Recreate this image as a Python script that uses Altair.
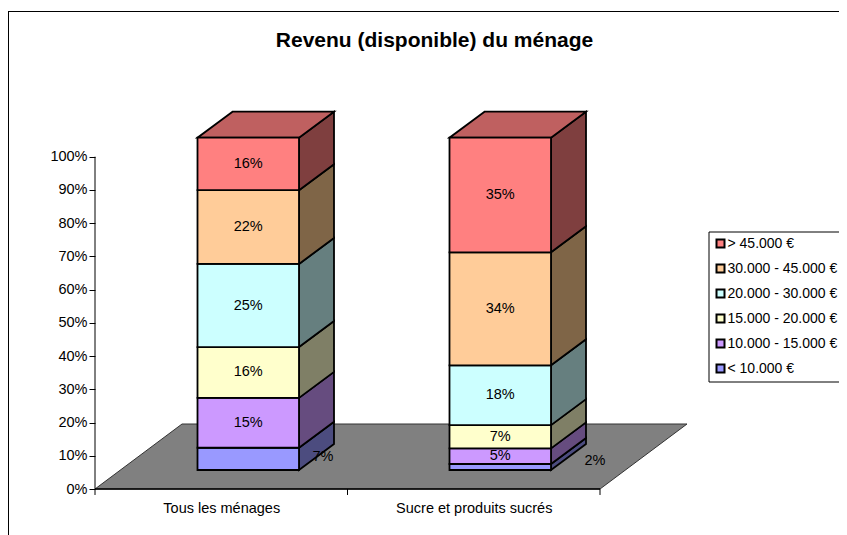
import altair as alt
import pandas as pd

categories = ["Tous les ménages", "Sucre et produits sucrés"]
brackets = ["< 10.000 €", "10.000 - 15.000 €", "15.000 - 20.000 €",
            "20.000 - 30.000 €", "30.000 - 45.000 €", "> 45.000 €"]
tous_heights = [6.7, 15.0, 15.3, 25.0, 22.2, 15.8]
sucre_heights = [1.8, 4.7, 7.0, 18.0, 34.0, 34.5]
tous_labels = ["7%", "15%", "16%", "25%", "22%", "16%"]
sucre_labels = ["2%", "5%", "7%", "18%", "34%", "35%"]
front_colors = ["#9999FF", "#CC99FF", "#FFFFCC", "#CCFFFF", "#FFCC99", "#FF8080"]
side_colors = ["#4C4C7F", "#664C7F", "#7F7F66", "#667F7F", "#7F6547", "#7F3F3F"]
top_color = "#BF6060"
floor_color = "#808080"
y_ticks = list(range(0, 101, 10))

FONT = "Liberation Sans"
W, H = 831, 527
PX_PER_PCT = 3.323
Y0 = 481.0  # view y of the 0% line
X_MIN, X_MAX = 8, 8 + W
y_domain = [-(H - Y0) / PX_PER_PCT, Y0 / PX_PER_PCT]
xs = alt.Scale(domain=[X_MIN, X_MAX], nice=False, zero=False)
ys = alt.Scale(domain=y_domain, nice=False, zero=False)

AXIS_X = 95
CAT_W = 252.5
FLOOR_DX, FLOOR_D = 87, 65 / PX_PER_PCT
BAR_W = 101.5
BAR_DX, BAR_D = 35, 26 / PX_PER_PCT
BAR_BASE = 19 / PX_PER_PCT
BAR_OFF = 102.5
centers = [AXIS_X + CAT_W * (i + 0.5) for i in range(2)]

front, side, top, text = [], [], [], []
for i, (hs, ls) in enumerate([(tous_heights, tous_labels), (sucre_heights, sucre_labels)]):
    L = AXIS_X + CAT_W * i + BAR_OFF - (0 if i == 0 else 0.5)
    R = L + BAR_W
    cum = BAR_BASE
    for j, (h, lab) in enumerate(zip(hs, ls)):
        lo, hi = cum, cum + h
        cum = hi
        front.append(dict(x=L, x2=R, lo=lo, hi=hi, bracket=brackets[j]))
        key = f"{i}-{j}"
        side.append(dict(x=R, lo=lo, hi=hi, fill=side_colors[j], key=key))
        side.append(dict(x=R + BAR_DX, lo=lo + BAR_D, hi=hi + BAR_D, fill=side_colors[j], key=key))
        tx, ty = (L + R) / 2, (lo + hi) / 2
        if j == 0:  # the two thinnest labels sit off to the right of the column
            tx = R + (24 if i == 0 else 44)
            ty = (489 - (457 if i == 0 else 461)) / PX_PER_PCT
        text.append(dict(x=tx, y=ty, label=lab))
    top.append(dict(x=L, x2=R, y=cum, key=i))
    top.append(dict(x=L + BAR_DX, x2=R + BAR_DX, y=cum + BAR_D, key=i))

floor = [dict(x=AXIS_X, x2=AXIS_X + 2 * CAT_W, y=0),
         dict(x=AXIS_X + FLOOR_DX, x2=AXIS_X + 2 * CAT_W + FLOOR_DX, y=FLOOR_D)]

label_expr = "datum.value < %s ? '%s' : '%s'" % (AXIS_X + CAT_W, categories[0], categories[1])

xax = alt.Axis(values=centers, labelExpr=label_expr, orient="bottom",
               offset=-(H - Y0), tickSize=0, domain=False, grid=False,
               labelFont=FONT, labelFontSize=14.5, labelColor="black",
               labelPadding=12, labelOverlap=False, labelBound=False,
               labelFlush=False, title=None)
yax = alt.Axis(values=y_ticks, labelExpr="datum.value + '%'", orient="left",
               offset=-(AXIS_X - X_MIN), tickSize=6, tickColor="black", tickWidth=1,
               domain=False, grid=False, labelFont=FONT, labelFontSize=14.5,
               labelColor="black", labelPadding=2, labelOverlap=False,
               labelBound=False, title=None)


def X(f):
    return alt.X(f, scale=xs, axis=xax)


def Y(f):
    return alt.Y(f, scale=ys, axis=yax)


border_top = alt.Chart(pd.DataFrame({"a": [0]})).mark_rule(color="black", strokeWidth=1).encode(
    x=alt.value(0), x2=alt.value(W), y=alt.value(3.5))
border_left = alt.Chart(pd.DataFrame({"a": [0]})).mark_rule(color="black", strokeWidth=1).encode(
    x=alt.value(0.5), y=alt.value(3), y2=alt.value(H))

floor_layer = alt.Chart(pd.DataFrame(floor)).mark_area(
    orient="horizontal", color=floor_color, stroke="#333333", strokeWidth=1
).encode(x=X("x:Q"), x2="x2:Q", y=Y("y:Q"))

axis_df = pd.DataFrame({"x": [AXIS_X], "x2": [AXIS_X + 2 * CAT_W], "hi": [100.0], "z": [0.0]})
y_line = alt.Chart(axis_df).mark_rule(color="black", strokeWidth=1).encode(
    x=X("x:Q"), y=Y("z:Q"), y2="hi:Q")
x_line = alt.Chart(axis_df).mark_rule(color="black", strokeWidth=1.5).encode(
    x=X("x:Q"), x2="x2:Q", y=Y("z:Q"))
tick_df = pd.DataFrame({"x": [AXIS_X + CAT_W * k for k in range(3)], "lo": [-1.8] * 3, "z": [0.0] * 3})
x_ticks = alt.Chart(tick_df).mark_rule(color="black", strokeWidth=1).encode(
    x=X("x:Q"), y=Y("lo:Q"), y2="z:Q")

side_layer = alt.Chart(pd.DataFrame(side)).mark_area(
    orient="vertical", stroke="black", strokeWidth=1.8, strokeJoin="miter"
).encode(
    x=X("x:Q"), y=Y("lo:Q"), y2="hi:Q",
    color=alt.Color("fill:N", scale=None, legend=None),
    detail="key:N",
)
top_layer = alt.Chart(pd.DataFrame(top)).mark_area(
    orient="horizontal", color=top_color, stroke="black", strokeWidth=1.8
).encode(x=X("x:Q"), x2="x2:Q", y=Y("y:Q"), detail="key:N")
front_layer = alt.Chart(pd.DataFrame(front)).mark_rect(stroke="black", strokeWidth=1.8).encode(
    x=X("x:Q"), x2="x2:Q", y=Y("lo:Q"), y2="hi:Q",
    fill=alt.Fill("bracket:N",
                  scale=alt.Scale(domain=brackets[::-1], range=front_colors[::-1]),
                  legend=alt.Legend(title=None, orient="none", legendX=700.5, legendY=223.5,
                                    symbolType="square", symbolSize=64,
                                    symbolStrokeColor="black", symbolStrokeWidth=2,
                                    labelFont=FONT, labelFontSize=14, labelColor="black",
                                    labelLimit=200, labelOffset=0, rowPadding=9,
                                    strokeColor="black", padding=5)),
)
text_layer = alt.Chart(pd.DataFrame(text)).mark_text(
    font=FONT, fontSize=14.5, color="black", align="center", baseline="middle"
).encode(x=X("x:Q"), y=Y("y:Q"), text="label:N")

chart = alt.layer(
    border_top, border_left, floor_layer, x_line, y_line, x_ticks,
    side_layer, top_layer, front_layer, text_layer,
).properties(
    width=W, height=H, padding=0, autosize=alt.AutoSizeParams(type="none"),
    title=alt.TitleParams("Revenu (disponible) du ménage", font=FONT, fontSize=21,
                          fontWeight="bold", color="black", anchor="middle",
                          dx=11, dy=64, offset=0, baseline="bottom"),
).configure_view(stroke=None)

chart.save("out.html", embed_options={"renderer": "svg", "actions": False})
